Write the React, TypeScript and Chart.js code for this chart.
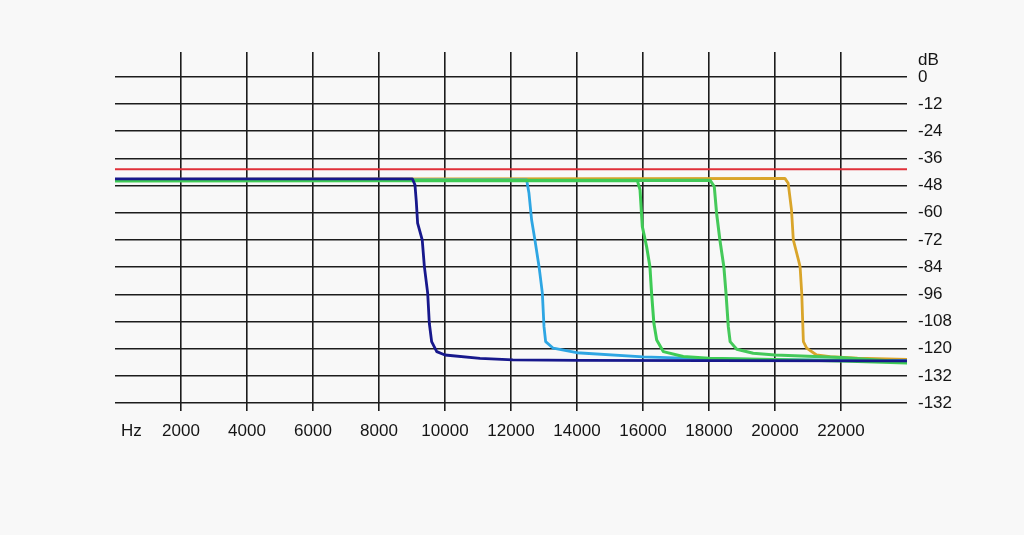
import React, { useEffect, useRef } from "react";
import { Chart, registerables } from "chart.js";

Chart.register(...registerables);

// ---- Data ----
const xTickValues = [2000, 4000, 6000, 8000, 10000, 12000, 14000, 16000, 18000, 20000, 22000];
const yTickValues = [0, -12, -24, -36, -48, -60, -72, -84, -96, -108, -120, -132, -144];
const yTickLabels = ["0", "-12", "-24", "-36", "-48", "-60", "-72", "-84", "-96", "-108", "-120", "-132", "-132"];
const xUnit = "Hz";
const yUnit = "dB";

const refHz = [0, 24000];
const refDb = [-40.8, -40.8];

const blueHz = [0, 9010, 9090, 9130, 9170, 9310, 9375, 9475, 9525, 9595, 9750, 10000, 11060, 12060, 14090, 18000, 24000];
const blueDb = [-45, -45, -47.7, -55, -64.6, -72, -83.8, -95.5, -108.8, -116.9, -121.3, -122.8, -124.3, -125, -125.2, -125.3, -125.4];

const lightBlueHz = [0, 12475, 12545, 12625, 12725, 12850, 12950, 13000, 13050, 13280, 13990, 16000, 18000, 20000, 24000];
const lightBlueDb = [-45.5, -45.5, -51.4, -63.2, -72, -83.8, -95.5, -110.3, -116.9, -119.8, -121.8, -123.6, -124.5, -124.9, -125.3];

const green16Hz = [0, 15830, 15910, 15980, 16110, 16210, 16260, 16330, 16415, 16615, 17220, 18000, 20000, 22000, 24000];
const green16Db = [-46, -45.8, -49.9, -66.1, -75, -83.8, -95.5, -108.8, -116.2, -121.3, -123.5, -124.2, -124.8, -125.4, -126.3];

const green18Hz = [0, 18030, 18160, 18230, 18330, 18450, 18515, 18585, 18640, 18840, 19340, 20000, 22000, 24000];
const green18Db = [-45.7, -45.6, -48.4, -60.2, -72, -83.8, -95.5, -110.3, -116.9, -120.3, -122, -122.8, -123.9, -125.9];

const orangeHz = [0, 20300, 20400, 20500, 20555, 20710, 20760, 20810, 20860, 20960, 21260, 21670, 22500, 24000];
const orangeDb = [-45.3, -44.8, -47, -58.7, -72, -80.8, -83.8, -95.5, -116.9, -119.8, -122.8, -123.5, -124.2, -124.8];

const pts = (xs: number[], ys: number[]) => xs.map((x, i) => ({ x, y: ys[i] }));

const FONT = '"Liberation Sans", Arial, sans-serif';
const FONT_SIZE = 17;
const TEXT = "#151515";
const GRID = "#1c1c1c";

const unitLabels = {
  id: "unitLabels",
  afterDraw(chart: any) {
    const ctx = chart.ctx;
    const xs = chart.scales.x;
    const ys = chart.scales.y;
    ctx.save();
    ctx.fillStyle = TEXT;
    ctx.font = `${FONT_SIZE}px ${FONT}`;
    ctx.textAlign = "left";
    ctx.textBaseline = "middle";
    ctx.fillText(yUnit, ys.left + 11, ys.getPixelForValue(0) - 16.5);
    ctx.fillText(xUnit, xs.left + 6, xs.top + 8 + 10 + FONT_SIZE * 0.6);
    ctx.restore();
  },
};

export default function App() {
  const ref = useRef<HTMLCanvasElement | null>(null);

  useEffect(() => {
    if (!ref.current) return;
    const line = (data: any, color: string, width: number) => ({
      data,
      borderColor: color,
      backgroundColor: color,
      borderWidth: width,
      pointRadius: 0,
      tension: 0,
      fill: false,
      borderJoinStyle: "round",
      borderCapStyle: "round",
    });
    const chart = new Chart(ref.current, {
      type: "line",
      data: {
        // first dataset is drawn on top
        datasets: [
          line(pts(refHz, refDb), "#e0313a", 2),
          line(pts(blueHz, blueDb), "#17188c", 2.8),
          line(pts(green16Hz, green16Db), "#3ecb55", 3),
          line(pts(green18Hz, green18Db), "#45c95a", 3),
          line(pts(lightBlueHz, lightBlueDb), "#2ea6e3", 2.8),
          line(pts(orangeHz, orangeDb), "#d9a52a", 2.8),
        ] as any,
      },
      options: {
        animation: false,
        responsive: true,
        maintainAspectRatio: false,
        layout: { padding: { left: 115, top: 52, right: 0, bottom: 0 } },
        plugins: { legend: { display: false }, tooltip: { enabled: false } },
        scales: {
          x: {
            type: "linear",
            min: 0,
            max: 24000,
            afterBuildTicks: (s: any) => {
              s.ticks = xTickValues.map((v) => ({ value: v }));
            },
            afterFit: (s: any) => {
              s.height = 132;
            },
            grid: { color: GRID, lineWidth: 1.6, drawTicks: true, tickLength: 8, tickColor: GRID },
            border: { display: false },
            ticks: {
              color: TEXT,
              font: { family: FONT, size: FONT_SIZE },
              padding: 10,
              maxRotation: 0,
              autoSkip: false,
              callback: (v: any) => String(v),
            },
          },
          y: {
            type: "linear",
            position: "right",
            min: -144,
            max: 11,
            afterBuildTicks: (s: any) => {
              s.ticks = yTickValues.map((v) => ({ value: v }));
            },
            afterFit: (s: any) => {
              s.width = 117;
            },
            grid: { color: GRID, lineWidth: 1.6, drawTicks: false },
            border: { display: false },
            ticks: {
              color: TEXT,
              font: { family: FONT, size: FONT_SIZE },
              padding: 11,
              autoSkip: false,
              callback: (_v: any, i: number) => yTickLabels[i],
            },
          },
        },
      },
      plugins: [unitLabels],
    });
    return () => chart.destroy();
  }, []);

  return (
    <div style={{ position: "absolute", left: 0, top: 0, width: 1024, height: 535, background: "#f8f8f8" }}>
      <canvas ref={ref} />
    </div>
  );
}
